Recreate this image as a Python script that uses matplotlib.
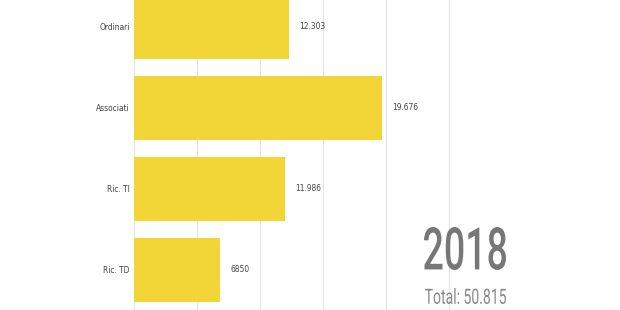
import matplotlib
matplotlib.use("Agg")
import matplotlib.pyplot as plt
from matplotlib.font_manager import FontProperties
from matplotlib.textpath import TextPath
from matplotlib.patches import PathPatch
from matplotlib.transforms import Affine2D, IdentityTransform

categories = ["Ordinari", "Associati", "Ric. TI", "Ric. TD"]
values = [12303, 19676, 11986, 6850]
value_labels = ["12.303", "19.676", "11.986", "6850"]
year = "2018"
total_label = "Total: 50.815"

plt.rcParams["font.family"] = ["DejaVu Sans"]

W, H = 620, 310
fig = plt.figure(figsize=(6.2, 3.1), dpi=100)
ax = fig.add_axes([134 / W, 0, 1 - 134 / W, 1])

ypos = list(range(len(categories)))
ax.barh(ypos, values, height=0.79, color="#f2d638", zorder=2)

for y, v, lab in zip(ypos, values, value_labels):
    ax.text(v + 800, y, lab, va="center", ha="left", fontsize=6,
            fontstretch="condensed", color="#444444")

ax.set_xlim(0, 38540)
ax.set_ylim(3.494, -0.333)
ax.set_xticks([0, 5000, 10000, 15000, 20000, 25000])
ax.grid(axis="x", color="#e4e4e4", linewidth=0.8, zorder=0)
ax.tick_params(axis="x", length=0, labelbottom=False)
ax.set_yticks(ypos)
ax.set_yticklabels(categories, fontsize=6, fontstretch="condensed", color="#444444")
ax.tick_params(axis="y", length=0, pad=3)
for s in ax.spines.values():
    s.set_visible(False)


# squeeze the big condensed labels into the box they take in the picture
def boxed_text(s, x0, x1, top, bottom, weight, color):
    prop = FontProperties(family=["Roboto", "DejaVu Sans"], weight=weight)
    tp = TextPath((0, 0), s, size=100, prop=prop)
    bb = tp.get_extents()
    sx = (x1 - x0) / bb.width
    sy = (bottom - top) / bb.height
    tr = Affine2D().translate(-bb.x0, -bb.y0).scale(sx, sy).translate(x0, H - bottom)
    fig.add_artist(PathPatch(tp, transform=tr + IdentityTransform(), fc=color, lw=0))


boxed_text(year, 424, 506, 227, 270, "medium", "#777777")
boxed_text(total_label, 425, 506, 288, 304, "normal", "#888888")

fig.savefig("out.png", dpi=100)
